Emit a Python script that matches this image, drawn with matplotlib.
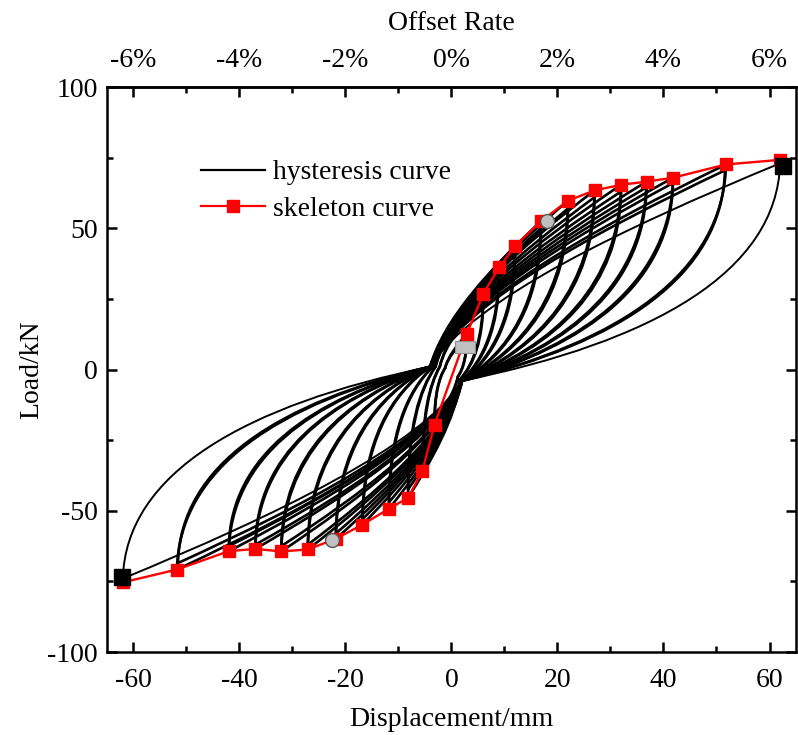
import matplotlib
matplotlib.use("Agg")
import matplotlib.pyplot as plt
from matplotlib.path import Path
from matplotlib.patches import PathPatch
from matplotlib.lines import Line2D
from matplotlib.ticker import MultipleLocator, FuncFormatter

plt.rcParams['font.family'] = ['Liberation Serif', 'DejaVu Serif']
plt.rcParams['axes.unicode_minus'] = False

# ---------------- skeleton curve ----------------
skel_pos_d = [2.9, 6.0, 9.0, 12.0, 16.9, 22.0, 27.0, 32.0, 36.8, 41.8, 51.8, 61.9]
skel_pos_L = [12.6, 26.8, 36.2, 43.7, 52.5, 59.8, 63.4, 65.4, 66.5, 67.9, 72.6, 74.2]
skel_neg_d = [-3.2, -5.5, -8.2, -11.8, -16.8, -21.8, -27.1, -32.1, -37.0, -42.0, -51.8, -61.9]
skel_neg_L = [-19.5, -36.0, -45.4, -49.3, -54.9, -59.9, -63.7, -64.4, -63.5, -64.3, -70.8, -75.3]

# special points
crack_d, crack_L = [2.6], [7.9]
yield_d, yield_L = [18.1, -22.6], [52.7, -60.3]
ult_d, ult_L = [62.6, -62.2], [72.2, -73.5]

# ---------------- hysteresis cycles (peaks and pinch points) ----------------
cyc_pos_d = [2.9, 2.9, 6.0, 6.0, 9.0, 9.0, 12.0, 12.0, 16.9, 16.9, 22.0, 22.0,
             27.0, 27.0, 32.0, 32.0, 36.8, 36.8, 41.8, 41.8, 51.8, 51.6, 62.0]
cyc_pos_L = [12.6, 11.5, 26.8, 24.5, 36.2, 33.5, 43.7, 41.0, 52.5, 50.0, 59.8, 57.0,
             63.4, 61.0, 65.4, 63.0, 66.5, 64.5, 67.9, 66.0, 72.6, 70.5, 73.0]
cyc_neg_d = [-3.2, -3.2, -5.5, -5.5, -8.2, -8.2, -11.8, -11.8, -16.8, -16.8, -21.8, -21.8,
             -27.1, -27.1, -32.1, -32.1, -37.0, -37.0, -42.0, -42.0, -51.8, -51.6, -62.0]
cyc_neg_L = [-19.5, -18.0, -36.0, -33.0, -45.4, -42.5, -49.3, -47.0, -54.9, -53.0, -59.9, -58.0,
             -63.7, -62.0, -64.4, -62.5, -63.5, -62.0, -64.3, -62.5, -70.8, -68.5, -74.0]
# right pinch (end of unloading from positive peak)
cyc_rp_d = [1.2, 1.2, 1.6, 1.6, 1.8, 1.8, 2.0, 2.0, 2.0, 2.0, 2.0, 2.0,
            2.0, 2.0, 2.0, 2.0, 2.0, 2.0, 2.0, 2.0, 2.0, 2.0, 2.0]
cyc_rp_L = [-2.5, -2.5, -3.5, -3.5, -4.0, -4.0, -4.0, -4.0, -4.0, -4.0, -4.0, -4.0,
            -4.0, -4.0, -4.0, -4.0, -4.0, -4.0, -4.0, -4.0, -4.0, -4.0, -4.0]
# left pinch (end of unloading from negative peak)
cyc_lp_d = [-1.2, -1.2, -2.2, -2.2, -3.0, -3.0, -3.5, -3.5, -4.0, -4.0, -4.0, -4.0,
            -4.0, -4.0, -4.0, -4.0, -4.0, -4.0, -4.0, -4.0, -4.0, -4.0, -4.0]
cyc_lp_L = [0.5, 0.5, 1.0, 1.0, 1.0, 1.0, 1.0, 1.0, 1.0, 1.0, 1.0, 1.0,
            1.0, 1.0, 1.0, 1.0, 1.0, 1.0, 1.0, 1.0, 1.0, 1.0, 1.0]

# axis ticks
x_ticks = [-60, -40, -20, 0, 20, 40, 60]
y_ticks = [-100, -50, 0, 50, 100]
rate_ticks = [-6, -4, -2, 0, 2, 4, 6]

# branch shape (Bezier handle fractions)
LOAD_F = (0.12, 0.33, 0.55, 0.68)
UNLD_F = (0.99, 0.50, 0.60, 0.18)


def loading(p0, p3):
    dx, dy = p3[0] - p0[0], p3[1] - p0[1]
    c1 = (p0[0] + LOAD_F[0] * dx, p0[1] + LOAD_F[1] * dy)
    c2 = (p0[0] + LOAD_F[2] * dx, p0[1] + LOAD_F[3] * dy)
    return [c1, c2, p3]


def unloading(p0, p3):
    dx, dy = p0[0] - p3[0], p0[1] - p3[1]
    c1 = (p3[0] + UNLD_F[0] * dx, p3[1] + UNLD_F[1] * dy)
    c2 = (p3[0] + UNLD_F[2] * dx, p3[1] + UNLD_F[3] * dy)
    return [c1, c2, p3]


fig = plt.figure(figsize=(7.98, 7.35), dpi=100)
ax = fig.add_axes([0.134, 0.1129, 0.8635, 0.7687])

n_cyc = len(cyc_pos_d)
for i in range(n_cyc):
    lp = (cyc_lp_d[i], cyc_lp_L[i])
    rp = (cyc_rp_d[i], cyc_rp_L[i])
    pk = (cyc_pos_d[i], cyc_pos_L[i])
    nk = (cyc_neg_d[i], cyc_neg_L[i])
    verts = [lp] + loading(lp, pk) + unloading(pk, rp) + loading(rp, nk) + unloading(nk, lp)
    codes = [Path.MOVETO] + [Path.CURVE4] * 12
    ax.add_patch(PathPatch(Path(verts, codes), fill=False, edgecolor='black',
                           lw=(1.4 if i == n_cyc - 1 else 1.9), zorder=2,
                           capstyle='round', joinstyle='round'))

sk_d = skel_neg_d[::-1] + skel_pos_d
sk_L = skel_neg_L[::-1] + skel_pos_L
ax.plot(sk_d, sk_L, color='#ff0000', lw=1.7, marker='s', ms=9,
        markerfacecolor='#ff0000', markeredgecolor='#ff0000', zorder=3)

ax.plot(ult_d, ult_L, ls='none', marker='s', ms=12, color='black', zorder=4)
ax.plot(yield_d, yield_L, ls='none', marker='o', ms=10, markerfacecolor='#c0c0c0',
        markeredgecolor='#555555', markeredgewidth=1.0, zorder=4)
rect_marker = [(-1, -0.55), (1, -0.55), (1, 0.55), (-1, 0.55), (-1, -0.55)]
ax.plot(crack_d, crack_L, ls='none', marker=rect_marker, ms=15,
        markerfacecolor='#c0c0c0', markeredgecolor='#909090', markeredgewidth=0.8, zorder=4)

ax.set_xlim(-65, 65)
ax.set_ylim(-100, 100)
ax.set_xticks(x_ticks)
ax.set_yticks(y_ticks)
ax.xaxis.set_minor_locator(MultipleLocator(10))
ax.yaxis.set_minor_locator(MultipleLocator(25))
ax.tick_params(which='both', direction='in', width=1.8, labelsize=20,
               right=True, top=False)
ax.tick_params(axis='x', which='both', pad=11.5)
ax.tick_params(axis='y', which='both', pad=6.5)
ax.tick_params(which='major', length=7)
ax.tick_params(which='minor', length=4)
for s in ax.spines.values():
    s.set_linewidth(1.8)

ax.set_xlabel('Displacement/mm', fontsize=20, labelpad=10)
ax.set_ylabel('Load/kN', fontsize=20, labelpad=2)

sec = ax.secondary_xaxis('top', functions=(lambda d: d / 10.0, lambda r: r * 10.0))
sec.set_xticks(rate_ticks)
sec.xaxis.set_minor_locator(MultipleLocator(1))
sec.xaxis.set_major_formatter(FuncFormatter(lambda v, p: f"{int(round(v))}%"))
sec.tick_params(which='both', direction='in', width=1.8, labelsize=20, pad=10)
sec.tick_params(which='major', length=7)
sec.tick_params(which='minor', length=4)
sec.spines['top'].set_linewidth(1.8)
sec.set_xlabel('Offset Rate', fontsize=20, labelpad=13)

handles = [Line2D([], [], color='black', lw=1.6),
           Line2D([], [], color='#ff0000', lw=1.6, marker='s', ms=9)]
ax.legend(handles, ['hysteresis curve', 'skeleton curve'], loc='upper left',
          bbox_to_anchor=(0.10, 0.915), frameon=False, fontsize=20,
          handlelength=2.3, handletextpad=0.3, labelspacing=0.4)

fig.savefig('out.png', dpi=100)
